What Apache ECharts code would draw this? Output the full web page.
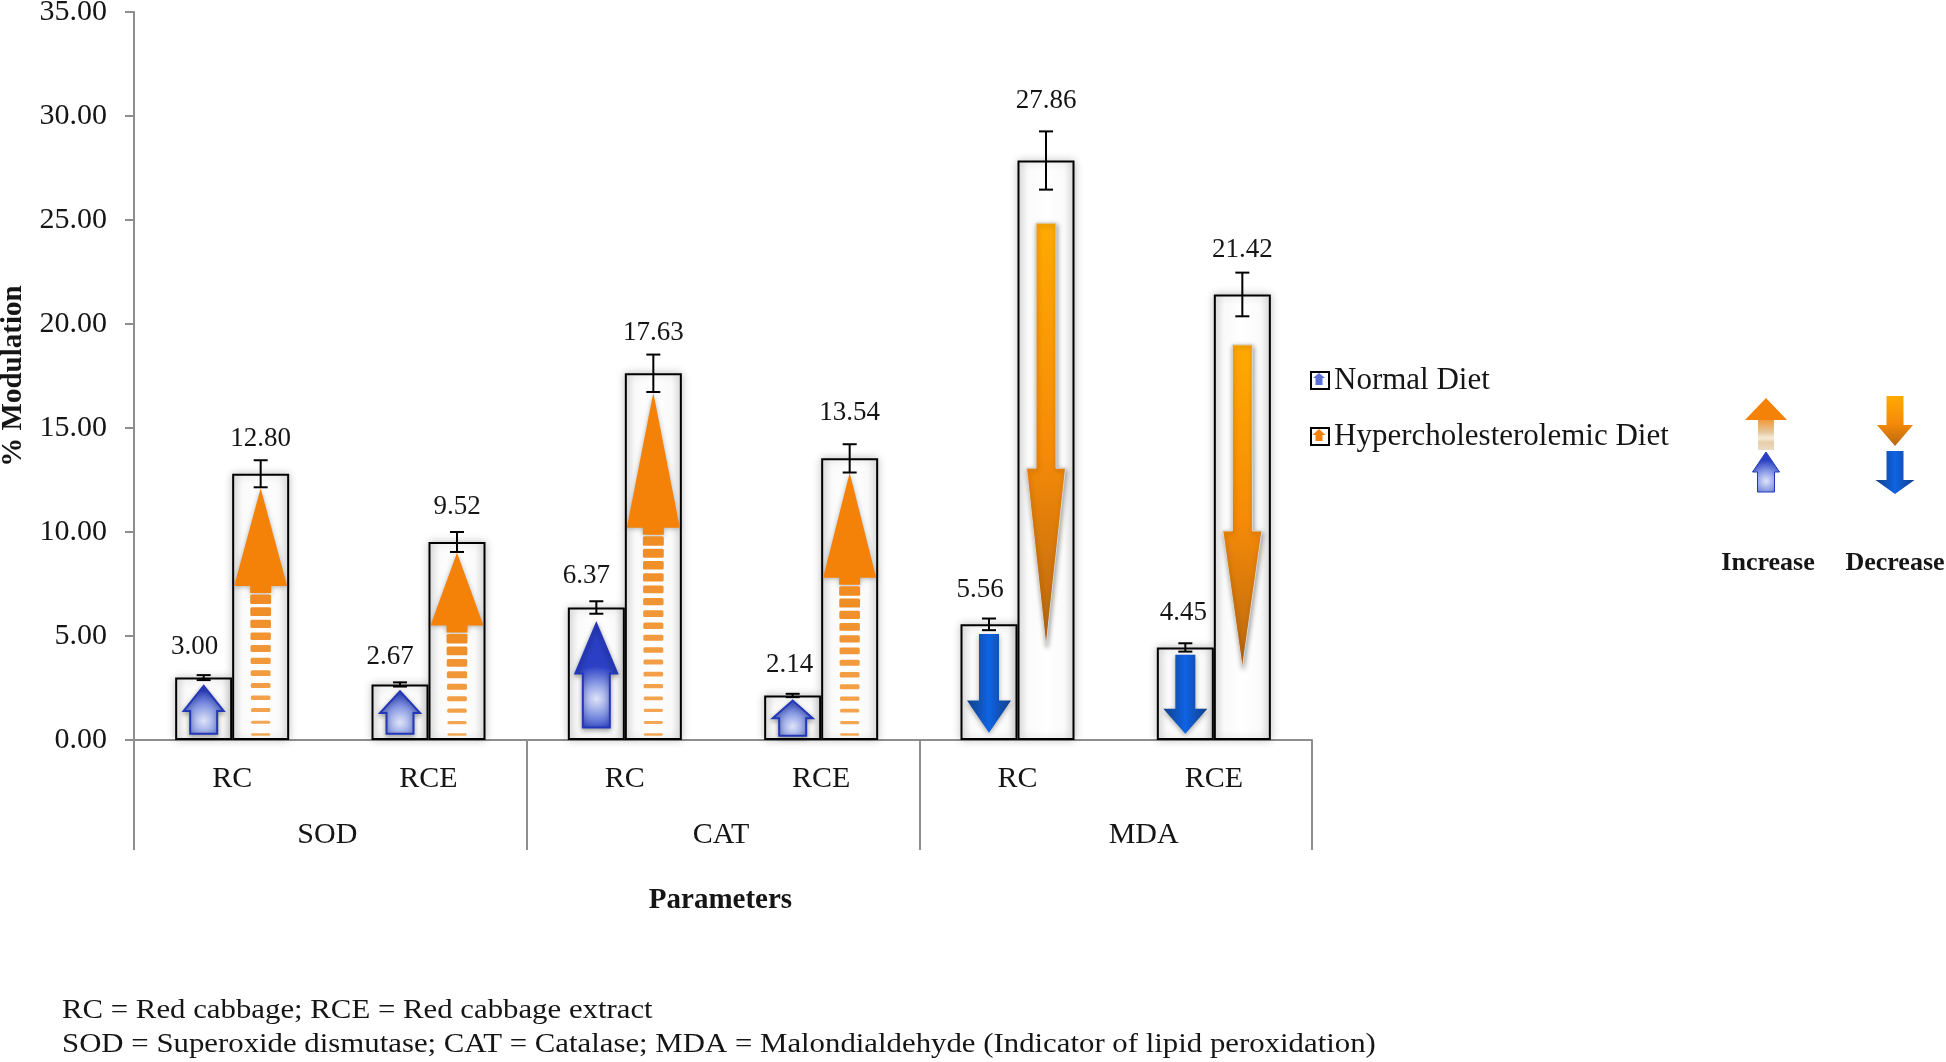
<!DOCTYPE html>
<html>
<head>
<meta charset="utf-8">
<style>html,body{margin:0;padding:0;background:#fff}#chart{width:1946px;height:1062px}</style>
<script src="https://cdn.jsdelivr.net/npm/echarts@6/dist/echarts.min.js"></script>
</head>
<body>
<div id="chart"></div>
<script>
const yTicks = [0, 5, 10, 15, 20, 25, 30, 35];
const treatments = ['RC', 'RCE', 'RC', 'RCE', 'RC', 'RCE'];
const parameters = ['SOD', 'CAT', 'MDA'];
const normalDiet = [3.00, 2.67, 6.37, 2.14, 5.56, 4.45];
const hyperDiet = [12.80, 9.52, 17.63, 13.54, 27.86, 21.42];
const normalError = [0.12, 0.10, 0.30, 0.08, 0.28, 0.20];
const hyperError = [0.65, 0.48, 0.90, 0.68, 1.40, 1.05];
// arrow extents, in axis units
const normalArrowTail = [0.3, 0.3, 0.6, 0.2, 5.1, 4.1];
const normalArrowNeck = [1.4, 1.3, 3.2, 1.05, 1.9, 1.5];
const normalArrowTip = [2.6, 2.35, 5.6, 1.9, 0.35, 0.3];
const hyperArrowTail = [0.2, 0.2, 0.2, 0.2, 24.85, 19.0];
const hyperArrowNeck = [7.4, 5.5, 10.2, 7.8, 13.07, 10.05];
const hyperArrowTip = [12.1, 9.0, 16.7, 12.85, 4.5, 3.46];
const noteLines = [
  'RC = Red cabbage; RCE = Red cabbage extract',
  'SOD = Superoxide dismutase; CAT = Catalase; MDA = Malondialdehyde (Indicator of lipid peroxidation)'
];

const FONT = '"Liberation Serif", "Times New Roman", serif';
const INK = '#151515';
const AXIS = '#8e8e8e';
const BAR_W = 57;
const PX_PER_UNIT = 728 / 35;
const LG = echarts.graphic.LinearGradient;
const RG = echarts.graphic.RadialGradient;

// label placement tweaks (pixels), kept apart from the data
const normalLabelShift = [-9, -10, -10, -3, -9, -2];
const normalLabelGap = [15, 12, 12, 15, 15, 17];
const hyperLabelGap = [8, 12, 8, 18, 17, 9];
const parameterLabelPadding = [[0, 6, 0, 0], [0, 4, 0, 0], [0, 0, 0, 56]];

const blueUpFill = new RG(0.5, 0.72, 0.75, [
  {offset: 0, color: '#dfe4f8'}, {offset: 0.5, color: '#8496e2'}, {offset: 1, color: '#2a3fc4'}]);
const blueDownFill = new LG(0, 0, 1, 0, [
  {offset: 0, color: '#123f86'}, {offset: 0.5, color: '#0f63e4'}, {offset: 1, color: '#123f86'}]);
const orangeUpFill = '#f58208';
const orangeDownFill = new LG(0, 0, 0, 1, [
  {offset: 0, color: '#ffaa00'}, {offset: 0.55, color: '#f58a08'}, {offset: 1, color: '#b9670f'}]);

function arrowPolygon(cx, yTail, yNeck, yTip, headW, shaftW) {
  return [[cx - shaftW / 2, yTail], [cx - shaftW / 2, yNeck], [cx - headW / 2, yNeck], [cx, yTip],
          [cx + headW / 2, yNeck], [cx + shaftW / 2, yNeck], [cx + shaftW / 2, yTail]];
}

function stripeRects(cx, yBottom, yTop, shaftW, color) {
  const out = [];
  const span = yBottom - yTop;
  const n = Math.round(span / 11.5);
  for (let i = 0; i < n; i++) {
    const t = i / (n - 1), h = 2.5 + 7 * t;
    const y = yBottom - (span - 9) * (i / (n - 1));
    out.push({type: 'rect', shape: {x: cx - shaftW / 2 + (1 - t) * 1, y: y - h, width: shaftW - (1 - t) * 2, height: h, r: 1.5},
      style: {fill: color, opacity: 0.75 + 0.25 * t}});
  }
  return out;
}

function arrowSeries(name, side, kind, tails, necks, tips) {
  return {
    type: 'custom', name, z: 4, silent: true,
    encode: {x: 0, y: [1, 2, 3]},
    data: tails.map((t, i) => [i, t, necks[i], tips[i]]),
    renderItem(params, api) {
      const band = api.value(0);
      const tail = api.value(1), neck = api.value(2), tip = api.value(3);
      const cx = api.coord([band, 0])[0] + side * BAR_W / 2;
      const yT = api.coord([band, tail])[1], yN = api.coord([band, neck])[1], yP = api.coord([band, tip])[1];
      const up = tip > tail;
      const children = [];
      if (kind === 'normal') {
        const long = Math.abs(yT - yP) > 80;
        const fill = up ? blueUpFill : blueDownFill;
        const headW = up ? (long ? 42 : 40) : 44;
        const shaftW = up ? 27 : 20;
        children.push({type: 'polygon', shape: {points: arrowPolygon(cx, yT, yN, yP, headW, shaftW)},
          style: {fill, stroke: up ? '#2338b8' : 'none', lineWidth: up ? 2 : 0, shadowBlur: 5, shadowColor: 'rgba(0,0,0,0.35)', shadowOffsetY: 2}});
      } else if (up) {
        const headW = 53, shaftW = 21;
        children.push({type: 'polygon', shape: {points: arrowPolygon(cx, yN + 7, yN, yP, headW, shaftW)},
          style: {fill: orangeUpFill, shadowBlur: 5, shadowColor: 'rgba(0,0,0,0.3)', shadowOffsetY: 1}});
        stripeRects(cx, yT, yN + 9, shaftW, '#f08c22').forEach(r => children.push(r));
      } else {
        children.push({type: 'polygon', shape: {points: arrowPolygon(cx, yT, yN, yP, 39, 20)},
          style: {fill: orangeDownFill, stroke: '#d9d9d9', lineWidth: 1, shadowBlur: 5, shadowColor: 'rgba(0,0,0,0.4)', shadowOffsetX: 1, shadowOffsetY: 2}});
      }
      return {type: 'group', children};
    }
  };
}

function errorSeries(name, side, values, errors) {
  return {
    type: 'custom', name, z: 5, silent: true,
    encode: {x: 0, y: [1, 2]},
    data: values.map((v, i) => [i, v - errors[i], v + errors[i]]),
    renderItem(params, api) {
      const band = api.value(0);
      const cx = api.coord([band, 0])[0] + side * BAR_W / 2;
      const yL = api.coord([band, api.value(1)])[1], yH = api.coord([band, api.value(2)])[1];
      const st = {stroke: '#000', lineWidth: 2, fill: 'none'};
      const cap = 7;
      return {type: 'group', children: [
        {type: 'line', shape: {x1: cx, y1: yL, x2: cx, y2: yH}, style: st},
        {type: 'line', shape: {x1: cx - cap, y1: yL, x2: cx + cap, y2: yL}, style: st},
        {type: 'line', shape: {x1: cx - cap, y1: yH, x2: cx + cap, y2: yH}, style: st}
      ]};
    }
  };
}

const barFill = new LG(0, 0, 1, 0, [
  {offset: 0, color: '#e2e2e2'}, {offset: 0.18, color: '#fafafa'}, {offset: 0.5, color: '#ffffff'},
  {offset: 0.82, color: '#fafafa'}, {offset: 1, color: '#e2e2e2'}]);

function barSeries(name, values, errors, gaps, shifts) {
  return {
    type: 'bar', name, z: 2, barWidth: BAR_W, barGap: 0,
    itemStyle: {color: barFill, borderColor: '#000', borderWidth: 2, shadowBlur: 8, shadowColor: 'rgba(0,0,0,0.22)'},
    data: values.map((v, i) => ({
      value: v,
      label: {
        show: true, position: 'top', formatter: v.toFixed(2),
        distance: errors[i] * PX_PER_UNIT + gaps[i],
        offset: [shifts ? shifts[i] : 0, 0],
        fontFamily: FONT, fontSize: 27, color: INK
      }
    }))
  };
}

function sidePolygon(cx, yTail, yNeck, yTip, headW, shaftW, fill, extra) {
  return Object.assign({type: 'polygon', silent: true,
    shape: {points: arrowPolygon(cx, yTail, yNeck, yTip, headW, shaftW)}, style: {fill}}, extra || {});
}

const fadeFill = new LG(0, 1, 0, 0, [
  {offset: 0, color: '#ecdcc4'}, {offset: 0.25, color: '#e6cfa8'}, {offset: 0.4, color: '#f5ead8'},
  {offset: 0.6, color: '#e3c79b'}, {offset: 1, color: '#f39a3a'}]);

const NOTE_X = 62, NOTE_STRETCH = 1.1;
const graphics = [
  // small arrows in the legend boxes
  sidePolygon(1319, 385, 378, 373, 12, 7, '#5a6fd8', {z: 20}),
  sidePolygon(1319, 441, 435, 429, 13, 7, '#f58208', {z: 20}),
  // key: increase
  sidePolygon(1766, 450, 420, 398, 42, 16, orangeUpFill, {z: 10}),
  {type: 'rect', silent: true, z: 11, shape: {x: 1758, y: 420, width: 16, height: 30}, style: {fill: fadeFill}},
  sidePolygon(1766, 492, 472, 452, 27, 17, blueUpFill, {style: {fill: blueUpFill, stroke: '#2338b8', lineWidth: 1}}),
  // key: decrease
  sidePolygon(1895, 396, 425, 446, 36, 17, orangeDownFill),
  sidePolygon(1895, 451, 480, 494, 39, 17, blueDownFill),
  {type: 'text', silent: true, style: {x: 1768, y: 563, text: 'Increase', fill: INK, font: 'bold 26px ' + FONT, align: 'center', verticalAlign: 'middle'}},
  {type: 'text', silent: true, style: {x: 1895, y: 563, text: 'Decrease', fill: INK, font: 'bold 26px ' + FONT, align: 'center', verticalAlign: 'middle'}},
  {type: 'text', silent: true, x: NOTE_X, y: 1011, scaleX: NOTE_STRETCH, style: {x: 0, y: 0, text: noteLines[0], fill: INK, font: '28px ' + FONT, verticalAlign: 'middle'}},
  {type: 'text', silent: true, x: NOTE_X, y: 1045, scaleX: NOTE_STRETCH, style: {x: 0, y: 0, text: noteLines[1], fill: INK, font: '28px ' + FONT, verticalAlign: 'middle'}}
];

const chart = echarts.init(document.getElementById('chart'), null, {renderer: 'canvas'});
chart.setOption({
  animation: false,
  backgroundColor: '#fff',
  grid: {left: 134, top: 12, width: 1178, height: 728, containLabel: false, outerBoundsMode: 'none'},
  legend: {
    show: true, orient: 'vertical', left: 1305, top: 360, itemWidth: 18, itemHeight: 17, itemGap: 25,
    selectedMode: false,
    data: [
      {name: 'Normal Diet', icon: 'rect', itemStyle: {color: '#fff', borderColor: '#000', borderWidth: 2}},
      {name: 'Hypercholesterolemic Diet', icon: 'rect', itemStyle: {color: '#fff', borderColor: '#000', borderWidth: 2}}
    ],
    textStyle: {fontFamily: FONT, fontSize: 31, color: INK, padding: [0, 0, 0, 0]}
  },
  xAxis: [
    {
      type: 'category', position: 'bottom', data: treatments.map((t, i) => ({value: i + ':' + t, label: t})),
      axisLine: {show: true, onZero: false, lineStyle: {color: AXIS, width: 2}},
      axisTick: {show: false},
      axisLabel: {fontFamily: FONT, fontSize: 30, color: INK, margin: 24, formatter: v => v.split(':')[1], interval: 0}
    },
    {
      type: 'category', position: 'bottom',
      data: parameters.map((p, i) => ({value: p, textStyle: {padding: parameterLabelPadding[i]}})),
      axisLine: {show: false, onZero: false},
      axisTick: {show: true, length: 110, lineStyle: {color: AXIS, width: 2}},
      axisLabel: {fontFamily: FONT, fontSize: 30, color: INK, margin: 80, interval: 0},
      name: 'Parameters', nameLocation: 'middle', nameGap: 146,
      nameTextStyle: {fontFamily: FONT, fontSize: 29, fontWeight: 'bold', color: INK, padding: [0, 5, 0, 0]}
    }
  ],
  yAxis: {
    type: 'value', min: 0, max: 35, interval: 5,
    name: '% Modulation', nameLocation: 'middle', nameGap: 106,
    nameTextStyle: {fontFamily: FONT, fontSize: 29, fontWeight: 'bold', color: INK},
    axisLine: {show: true, lineStyle: {color: AXIS, width: 2}},
    axisTick: {show: true, length: 9, lineStyle: {color: AXIS, width: 2}},
    splitLine: {show: false},
    axisLabel: {fontFamily: FONT, fontSize: 30, color: INK, margin: 27, formatter: v => v.toFixed(2),
      customValues: yTicks}
  },
  series: [
    barSeries('Normal Diet', normalDiet, normalError, normalLabelGap, normalLabelShift),
    barSeries('Hypercholesterolemic Diet', hyperDiet, hyperError, hyperLabelGap, null),
    arrowSeries('Normal arrows', -1, 'normal', normalArrowTail, normalArrowNeck, normalArrowTip),
    arrowSeries('Hyper arrows', 1, 'hyper', hyperArrowTail, hyperArrowNeck, hyperArrowTip),
    errorSeries('Normal error', -1, normalDiet, normalError),
    errorSeries('Hyper error', 1, hyperDiet, hyperError)
  ],
  graphic: graphics
});
</script>
</body>
</html>
